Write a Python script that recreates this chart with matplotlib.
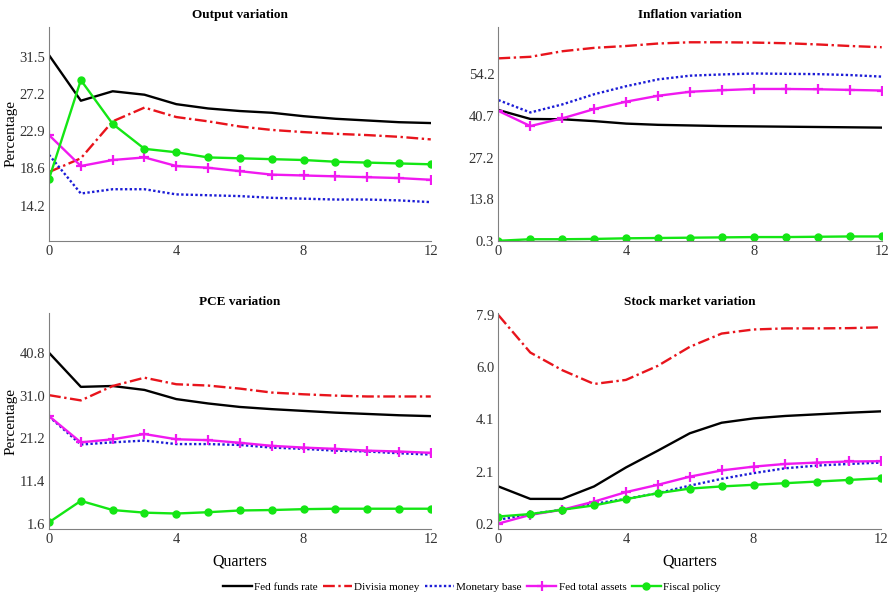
import numpy as np
import matplotlib.pyplot as plt

plt.rcParams['font.family'] = ['Liberation Serif', 'DejaVu Serif']

quarters = np.arange(13)

series_names = ['Fed funds rate', 'Divisia money', 'Monetary base', 'Fed total assets', 'Fiscal policy']

# Output variation
output_fed = [31.7, 26.4, 27.5, 27.1, 26.0, 25.5, 25.2, 25.0, 24.6, 24.3, 24.1, 23.9, 23.8]
output_divisia = [18.1, 19.7, 24.0, 25.6, 24.5, 24.0, 23.4, 23.0, 22.75, 22.55, 22.4, 22.2, 21.9]
output_base = [20.1, 15.6, 16.1, 16.1, 15.5, 15.4, 15.3, 15.1, 15.0, 14.9, 14.9, 14.8, 14.6]
output_assets = [22.4, 18.8, 19.5, 19.8, 18.8, 18.6, 18.2, 17.8, 17.7, 17.6, 17.5, 17.4, 17.2]
output_fiscal = [17.3, 28.8, 23.7, 20.8, 20.4, 19.8, 19.7, 19.6, 19.5, 19.3, 19.2, 19.1, 19.0]

# Inflation variation
infl_fed = [42.6, 39.7, 39.6, 39.0, 38.2, 37.8, 37.6, 37.4, 37.3, 37.2, 37.1, 37.0, 36.9]
infl_divisia = [59.3, 59.8, 61.6, 62.7, 63.3, 64.1, 64.5, 64.5, 64.4, 64.2, 63.8, 63.3, 62.9]
infl_base = [45.8, 41.8, 44.4, 47.7, 50.3, 52.5, 53.7, 54.1, 54.4, 54.3, 54.2, 53.9, 53.4]
infl_assets = [42.3, 37.4, 39.9, 42.9, 45.3, 47.2, 48.5, 49.0, 49.4, 49.4, 49.3, 49.1, 48.9]
infl_fiscal = [0.3, 0.8, 0.8, 0.9, 1.1, 1.2, 1.3, 1.4, 1.5, 1.5, 1.6, 1.7, 1.7]

# PCE variation
pce_fed = [40.8, 33.0, 33.2, 32.3, 30.2, 29.2, 28.4, 27.9, 27.5, 27.1, 26.8, 26.5, 26.3]
pce_divisia = [31.1, 29.9, 33.2, 35.1, 33.6, 33.3, 32.6, 31.7, 31.3, 31.0, 30.8, 30.8, 30.8]
pce_base = [26.2, 19.8, 20.3, 20.7, 19.9, 19.9, 19.7, 19.1, 18.8, 18.4, 18.2, 17.8, 17.5]
pce_assets = [26.3, 20.3, 21.0, 22.2, 21.0, 20.8, 20.2, 19.5, 19.1, 18.8, 18.4, 18.2, 17.9]
pce_fiscal = [2.0, 6.9, 4.8, 4.2, 4.0, 4.3, 4.7, 4.8, 5.0, 5.1, 5.1, 5.1, 5.1]

# Stock market variation
stock_fed = [1.58, 1.12, 1.12, 1.58, 2.28, 2.90, 3.54, 3.93, 4.09, 4.18, 4.24, 4.30, 4.35]
stock_divisia = [7.90, 6.52, 5.87, 5.36, 5.51, 6.03, 6.73, 7.22, 7.37, 7.41, 7.41, 7.42, 7.45]
stock_base = [0.35, 0.56, 0.72, 0.94, 1.12, 1.33, 1.61, 1.86, 2.07, 2.25, 2.35, 2.41, 2.46]
stock_assets = [0.21, 0.53, 0.72, 1.02, 1.37, 1.64, 1.94, 2.17, 2.31, 2.41, 2.46, 2.50, 2.51]
stock_fiscal = [0.47, 0.56, 0.72, 0.88, 1.11, 1.33, 1.50, 1.58, 1.64, 1.70, 1.76, 1.82, 1.88]

panels = [
    ('Output variation', [output_fed, output_divisia, output_base, output_assets, output_fiscal],
     (10.1, 35.0), [14.2, 18.6, 22.9, 27.2, 31.5], ['14.2', '18.6', '22.9', '27.2', '31.5']),
    ('Inflation variation', [infl_fed, infl_divisia, infl_base, infl_assets, infl_fiscal],
     (0.3, 69.5), [0.3, 13.8, 27.2, 40.7, 54.2], ['0.3', '13.8', '27.2', '40.7', '54.2']),
    ('PCE variation', [pce_fed, pce_divisia, pce_base, pce_assets, pce_fiscal],
     (0.4, 49.8), [1.6, 11.4, 21.2, 31.0, 40.8], ['1.6', '11.4', '21.2', '31.0', '40.8']),
    ('Stock market variation', [stock_fed, stock_divisia, stock_base, stock_assets, stock_fiscal],
     (0.0, 7.96), [0.2, 2.125, 4.05, 5.975, 7.9], ['0.2', '2.1', '4.1', '6.0', '7.9']),
]

styles = [
    dict(color='black', linestyle='-', lw=1.7),
    dict(color='#e8141c', linestyle=(0, (5, 1.5, 1, 1.5)), lw=1.7),
    dict(color='#1c1cd6', linestyle=(0, (1, 1)), lw=1.7),
    dict(color='#f019f0', linestyle='-', lw=1.7, marker='+', ms=7, mew=1.6),
    dict(color='#14e614', linestyle='-', lw=1.7, marker='o', ms=5),
]

positions = [
    [0.0551, 0.596, 0.4289, 0.359],
    [0.5600, 0.596, 0.4307, 0.359],
    [0.0551, 0.112, 0.4289, 0.362],
    [0.5600, 0.112, 0.4300, 0.362],
]

fig = plt.figure(figsize=(8.9, 5.96), dpi=100)

for i, (title, data, ylim, yticks, ylabels) in enumerate(panels):
    ax = fig.add_axes(positions[i])
    for name, vals, st in zip(series_names, data, styles):
        ax.plot(quarters, vals, label=name, **st)
    ax.set_xlim(0, 12)
    ax.set_ylim(*ylim)
    ax.set_xticks([0, 4, 8, 12])
    ax.set_yticks(yticks)
    ax.set_yticklabels(ylabels)
    ax.set_title(title, fontsize=9.5, fontweight='bold', pad=6)
    for s in ['top', 'right']:
        ax.spines[s].set_visible(False)
    for s in ['left', 'bottom']:
        ax.spines[s].set_color('#808080')
    ax.tick_params(labelsize=10.5, length=0, colors='#333333', pad=3)
    if i % 2 == 0:
        ax.set_ylabel('Percentage', fontsize=11)
        ax.yaxis.set_label_coords(-0.083, 0.5)
    if i >= 2:
        ax.set_xlabel('Quarters', fontsize=11.5, labelpad=5)
    if i == 0:
        handles, labels = ax.get_legend_handles_labels()

fig.legend(handles, labels, loc='center', bbox_to_anchor=(0.53, 0.015), ncol=5,
           frameon=False, fontsize=8, handlelength=2.6, handletextpad=0.2, columnspacing=0.5)

fig.savefig('out.png', dpi=100)
